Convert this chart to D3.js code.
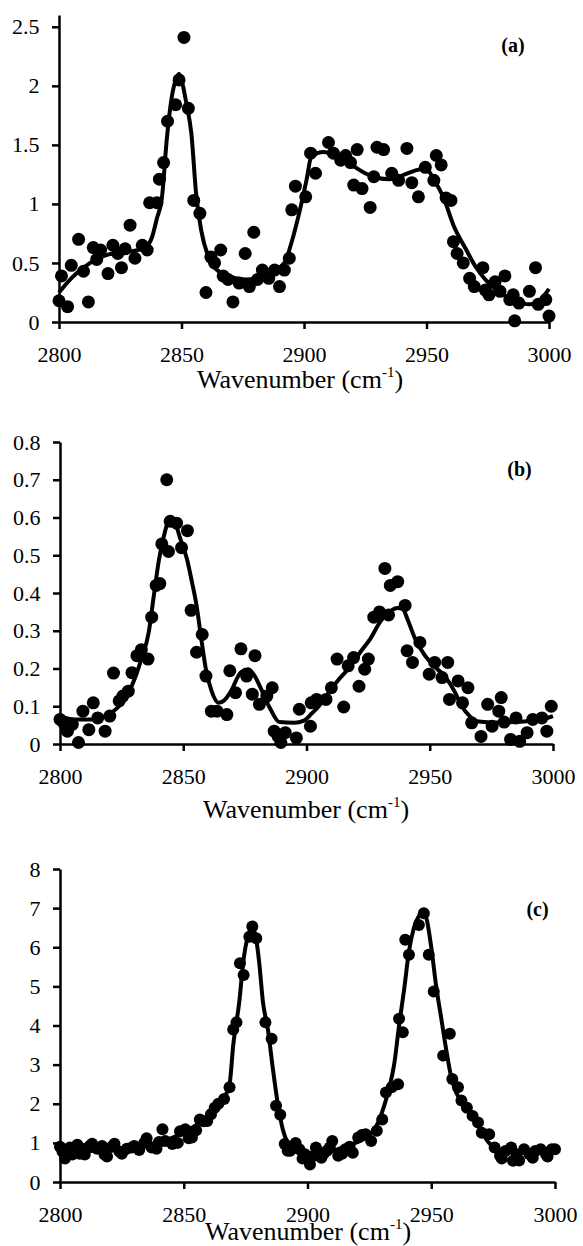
<!DOCTYPE html>
<html>
<head>
<meta charset="utf-8">
<script src="https://cdn.jsdelivr.net/npm/d3@7/dist/d3.min.js"></script>
<style>
  html, body { margin: 0; padding: 0; background: #fff; }
  svg { display: block; }
  svg text { font-family: "Liberation Serif", "DejaVu Serif", serif; fill: #000; }
</style>
</head>
<body>
<svg id="chart" width="583" height="1246"></svg>
<script>
// ---------- DATA ----------
const xTicks = [2800, 2850, 2900, 2950, 3000];
const aYTicks = [0, 0.5, 1, 1.5, 2, 2.5];
const bYTicks = [0, 0.1, 0.2, 0.3, 0.4, 0.5, 0.6, 0.7, 0.8];
const cYTicks = [0, 1, 2, 3, 4, 5, 6, 7, 8];
const panelLabels = ["(a)", "(b)", "(c)"];
const xTitle = "Wavenumber (cm";
const xTitleSup = "-1";

// Panel (a) measured points
const aX = [2800,2801,2803.5,2805,2808,2810,2812,2814,2815.4,2817,2820,2822,2824,2825.5,2827,2829,2831,2834,2836,2837,2840,2841,2842.7,2844.3,2847.6,2849,2851,2852.8,2855,2857.5,2860,2862,2863.5,2866,2867,2869,2871,2873.5,2876,2877.7,2879.5,2881,2883,2885.6,2888,2890,2892,2894,2895,2896.5,2900.7,2902.7,2904.7,2910,2912,2915,2917,2919,2920.3,2921.7,2923.7,2927,2928.5,2929.8,2932.5,2935.8,2938.6,2942,2944,2946.7,2949.5,2953,2954,2956,2958,2960,2961,2962.5,2965,2967.6,2969.5,2973,2974,2975.5,2978,2980,2982,2984,2985.4,2986,2987.7,2992,2994.5,2995.6,2998.7,3000];
const aY = [0.18,0.39,0.13,0.48,0.70,0.43,0.17,0.63,0.53,0.61,0.41,0.65,0.58,0.46,0.62,0.82,0.54,0.65,0.61,1.01,1.01,1.21,1.35,1.70,1.84,2.05,2.41,1.81,1.03,0.92,0.25,0.55,0.50,0.61,0.39,0.36,0.17,0.33,0.58,0.30,0.76,0.36,0.44,0.37,0.44,0.30,0.44,0.54,0.95,1.15,1.06,1.43,1.26,1.52,1.43,1.37,1.41,1.35,1.16,1.46,1.13,0.97,1.23,1.48,1.46,1.26,1.20,1.47,1.18,1.06,1.31,1.20,1.41,1.33,1.05,1.03,0.68,0.58,0.50,0.37,0.30,0.46,0.27,0.23,0.34,0.26,0.39,0.19,0.23,0.01,0.16,0.26,0.46,0.15,0.19,0.05];
// Panel (a) fitted curve
const aCurveX = [2800,2805,2810,2815,2820,2825,2830,2835,2838,2840,2842,2844,2846,2848,2849,2850,2852,2854,2856,2858,2861,2864,2867,2872,2876,2882,2887,2892,2895,2898,2901,2903,2908,2913,2917,2921,2925,2930,2935,2940,2945,2949.5,2953.5,2957,2961,2966,2970,2974,2980,2986,2992,2996,3000];
const aCurveY = [0.25,0.37,0.46,0.53,0.57,0.59,0.60,0.63,0.72,0.88,1.05,1.55,1.90,2.07,2.10,2.05,1.85,1.60,1.08,0.78,0.55,0.45,0.41,0.37,0.36,0.38,0.43,0.50,0.68,0.92,1.20,1.40,1.44,1.41,1.37,1.31,1.26,1.22,1.21,1.24,1.28,1.30,1.19,1.05,0.82,0.62,0.47,0.36,0.25,0.18,0.15,0.18,0.28];

// Panel (b) measured points
const bX = [2800,2801.5,2803,2805,2807.5,2809.3,2811.7,2813.5,2815.3,2818.3,2820.2,2821.7,2824,2825.5,2827.7,2829.2,2831.2,2833,2835.7,2837.2,2839,2840.5,2841.3,2843.3,2844,2844.7,2847.3,2849.3,2851.7,2853.2,2855.4,2857.7,2859.2,2861.4,2863.7,2867.7,2868.9,2871.2,2873.4,2875.7,2878,2879.1,2880.9,2883.9,2886.1,2886.9,2888.5,2889.6,2891.4,2895.9,2897.1,2901.6,2901.9,2904.1,2907.9,2910.1,2912.4,2915.1,2916.9,2919.1,2921.3,2923.6,2925.1,2927.3,2929.6,2931.8,2933.3,2934,2937,2940,2940.8,2943,2946,2949.8,2952,2955,2957.3,2958,2961.5,2963.3,2965.5,2967,2970.8,2973.5,2975.3,2978,2979,2980.2,2982.8,2985,2986.5,2989.5,2991.8,2995.5,2997.5,2999.3];
const bY = [0.065,0.056,0.034,0.052,0.004,0.087,0.038,0.109,0.069,0.034,0.074,0.188,0.114,0.127,0.14,0.189,0.234,0.25,0.225,0.336,0.42,0.425,0.53,0.70,0.51,0.59,0.585,0.52,0.565,0.354,0.243,0.29,0.18,0.087,0.087,0.078,0.194,0.136,0.252,0.18,0.132,0.234,0.105,0.127,0.149,0.034,0.02,0.004,0.03,0.016,0.092,0.047,0.109,0.118,0.118,0.149,0.225,0.098,0.207,0.229,0.153,0.198,0.225,0.336,0.35,0.465,0.342,0.42,0.43,0.367,0.247,0.216,0.269,0.185,0.216,0.176,0.216,0.118,0.167,0.109,0.149,0.056,0.02,0.105,0.047,0.087,0.123,0.058,0.012,0.069,0.007,0.03,0.065,0.069,0.034,0.1];
// Panel (b) fitted curve
const bCurveX = [2800,2806,2813.5,2821,2828.5,2833,2836,2838,2840.2,2842.5,2844.7,2847,2849,2851.5,2853.5,2855.4,2857.5,2859.2,2861.5,2864.4,2866.5,2869,2873.4,2876.4,2879,2881,2885.4,2889,2895,2899,2902,2905,2908,2913,2918,2922,2926,2930,2934,2937,2939,2941,2944,2948,2952,2956,2960,2963,2966,2969,2975,2985,2992,2997,3000];
const bCurveY = [0.074,0.065,0.065,0.083,0.145,0.225,0.296,0.39,0.49,0.56,0.60,0.58,0.54,0.49,0.43,0.367,0.27,0.198,0.14,0.109,0.115,0.136,0.19,0.198,0.18,0.154,0.092,0.058,0.056,0.062,0.08,0.10,0.127,0.17,0.207,0.245,0.28,0.325,0.352,0.36,0.358,0.33,0.28,0.235,0.205,0.18,0.14,0.10,0.075,0.06,0.057,0.058,0.062,0.068,0.074];

// Panel (c) measured points
const cX = [2800,2801,2802,2803,2804,2805,2806,2807,2808,2809,2810,2812,2813,2815,2817,2818,2819,2821,2822,2824,2825,2827,2829,2830,2832,2834,2835,2837,2839,2840,2841.4,2842.5,2845.4,2847.6,2848.5,2850.6,2852,2853.3,2855,2856.5,2858,2859.5,2861,2862.5,2864,2866.3,2868.5,2870,2871.3,2872.7,2874.2,2876.5,2877.7,2879.3,2883,2885.5,2887.3,2889,2890.8,2892,2893,2895.2,2896.7,2898,2899,2901,2902,2903.4,2905.6,2906.5,2907.9,2909,2910,2912.4,2914,2915.3,2917,2918.3,2920.5,2922,2923.5,2925.7,2928,2930.2,2931.7,2934,2936.6,2937,2938.5,2939.5,2941,2945,2947,2949,2951,2954.8,2957.5,2958.5,2960.8,2962.2,2964.4,2966.7,2968.9,2970.4,2973.4,2975.6,2977.8,2978.5,2980,2982.3,2983,2984.5,2985.5,2987.5,2989.7,2991,2992,2994.2,2996.4,2997,2998.7,3000];
const cY = [0.90,0.78,0.60,0.75,0.88,0.70,0.78,0.95,0.72,0.85,0.70,0.92,0.98,0.85,0.92,0.70,0.65,0.90,0.98,0.78,0.72,0.85,0.88,0.92,0.82,1.00,1.12,0.88,0.85,1.02,1.35,1.05,0.97,1.00,1.30,1.35,1.12,1.14,1.32,1.60,1.55,1.56,1.73,1.90,2.00,2.12,2.42,3.90,4.08,5.59,5.29,6.27,6.53,6.23,4.08,3.66,1.95,1.72,0.97,0.80,0.80,1.00,0.84,0.60,0.71,0.45,0.65,0.88,0.62,0.72,0.80,0.88,1.05,0.67,0.72,0.84,0.90,0.75,1.14,1.20,1.22,1.05,1.31,1.60,2.29,2.42,2.50,4.17,3.83,6.19,5.81,6.57,6.87,5.81,4.87,3.23,3.79,2.63,2.42,2.08,1.90,1.69,1.52,1.26,1.22,0.88,0.67,0.60,0.79,0.88,0.54,0.71,0.55,0.84,0.71,0.62,0.79,0.84,0.71,0.65,0.84,0.84];
// Panel (c) fitted curve
const cCurveX = [2800,2810,2820,2830,2840,2845,2850,2855,2860,2862,2865.5,2868.5,2870,2872.5,2874,2876,2877.5,2879,2880.5,2882,2884,2886,2888,2890,2892,2894,2900,2905,2910,2915,2920,2925,2928,2931,2933,2935,2937,2939,2941,2943,2945,2946.5,2948,2950,2952,2954,2956,2958,2960,2962,2965,2968,2971,2973,2975.6,2980,2990,3000];
const cCurveY = [0.75,0.78,0.83,0.90,1.02,1.12,1.27,1.45,1.68,1.80,2.08,2.50,3.50,4.64,5.60,6.30,6.50,6.30,5.60,4.60,3.90,2.90,2.00,1.35,1.00,0.85,0.72,0.74,0.80,0.90,1.02,1.20,1.45,1.95,2.40,3.00,4.00,4.90,5.90,6.50,6.80,6.90,6.75,6.00,5.00,4.20,3.40,2.70,2.30,2.08,1.80,1.56,1.22,1.02,0.88,0.78,0.76,0.80];

// ---------- LAYOUT ----------
const FONT = '"Liberation Serif", "DejaVu Serif", serif';
const panels = [
  { xs: aX, ys: aY, cx: aCurveX, cy: aCurveY, yTicks: aYTicks, yMax: 2.6,
    xr: [59, 549], yr: [322, 15], r: 6.5, label: panelLabels[0], lab: [513, 52], title: [197, 388] },
  { xs: bX, ys: bY, cx: bCurveX, cy: bCurveY, yTicks: bYTicks, yMax: 0.8,
    xr: [60, 553], yr: [744, 442], r: 6.5, label: panelLabels[1], lab: [519.5, 476], title: [203, 818] },
  { xs: cX, ys: cY, cx: cCurveX, cy: cCurveY, yTicks: cYTicks, yMax: 8,
    xr: [60, 555], yr: [1182, 869], r: 6, label: panelLabels[2], lab: [537.5, 916], title: [205, 1240] }
];

const svg = d3.select("#chart");
svg.append("rect").attr("width", 583).attr("height", 1246).attr("fill", "#fff");

panels.forEach(p => {
  const x = d3.scaleLinear().domain([2800, 3000]).range(p.xr);
  const y = d3.scaleLinear().domain([0, p.yMax]).range(p.yr);
  const g = svg.append("g");

  const pts = p.cx.map((v, i) => [v, p.cy[i]]);
  g.append("path")
    .datum(pts)
    .attr("fill", "none")
    .attr("stroke", "#000")
    .attr("stroke-width", 4)
    .attr("stroke-linejoin", "round")
    .attr("d", d3.line().x(d => x(d[0])).y(d => y(d[1])).curve(d3.curveMonotoneX));

  g.selectAll("circle.pt")
    .data(p.xs.map((v, i) => [v, p.ys[i]]))
    .join("circle")
    .attr("class", "pt")
    .attr("cx", d => x(d[0]))
    .attr("cy", d => y(d[1]))
    .attr("r", p.r)
    .attr("fill", "#000");

  const gx = g.append("g")
    .attr("transform", `translate(0,${p.yr[0]})`)
    .call(d3.axisBottom(x).tickValues(xTicks).tickSize(7).tickSizeOuter(0).tickPadding(17)
      .tickFormat(d => String(d)));
  const gy = g.append("g")
    .attr("transform", `translate(${p.xr[0]},0)`)
    .call(d3.axisLeft(y).tickValues(p.yTicks).tickSize(7).tickSizeOuter(0).tickPadding(12.5)
      .tickFormat(d => String(d)));

  [gx, gy].forEach(ax => {
    ax.attr("font-family", FONT).attr("font-size", 22);
    ax.select(".domain").attr("stroke", "#000").attr("stroke-width", 2.5);
    ax.selectAll(".tick line").attr("stroke", "#000").attr("stroke-width", 2.5);
    ax.selectAll(".tick text")
      .attr("font-family", FONT)
      .style("font-family", FONT)
      .style("font-size", "22px")
      .attr("fill", "#000");
  });

  const t = g.append("text")
    .attr("x", p.title[0]).attr("y", p.title[1])
    .attr("text-anchor", "start")
    .attr("font-family", FONT)
    .style("font-family", FONT)
    .style("font-size", "26px");
  t.append("tspan").text(xTitle);
  t.append("tspan").attr("dy", -11).style("font-size", "15px").text(xTitleSup);
  t.append("tspan").attr("dy", 11).text(")");

  g.append("text")
    .attr("x", p.lab[0]).attr("y", p.lab[1])
    .attr("text-anchor", "middle")
    .attr("font-family", FONT)
    .style("font-family", FONT)
    .style("font-size", "20px")
    .style("font-weight", "bold")
    .text(p.label);
});
</script>
</body>
</html>
